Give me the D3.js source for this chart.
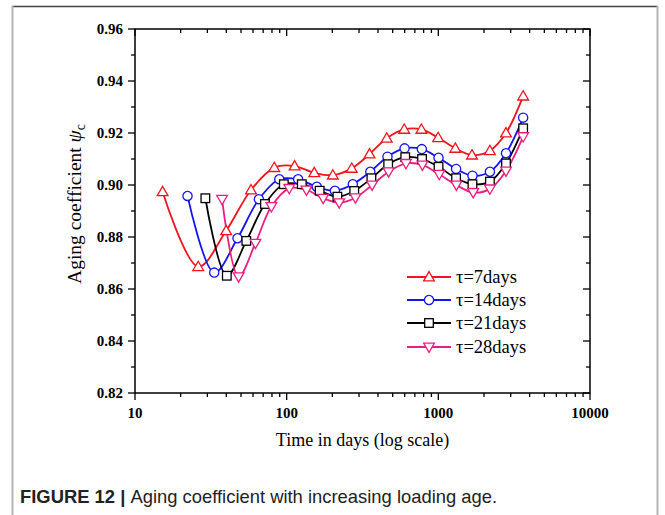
<!DOCTYPE html>
<html>
<head>
<meta charset="utf-8">
<script src="https://cdn.jsdelivr.net/npm/d3@7"></script>
<style>
  html, body { margin: 0; padding: 0; background: #fff; }
</style>
</head>
<body>
<div id="chart"></div>
<script>
// loading time (days) and aging coefficient for each loading age
const age7 = [15.2, 26.1, 39.9, 58.2, 82.8, 112.8, 152, 201.6, 268.6, 352, 457, 596, 773, 997, 1294, 1667, 2188, 2793, 3624];
const psi7 = [0.8974, 0.8686, 0.8824, 0.8981, 0.9067, 0.9073, 0.9047, 0.9038, 0.9064, 0.9119, 0.918, 0.9214, 0.9214, 0.9182, 0.9141, 0.9115, 0.9132, 0.920, 0.9342];

const age14 = [22.2, 33.3, 47.4, 65.6, 89.4, 119, 158, 208, 273, 356, 462, 599, 778, 1003, 1309, 1679, 2188, 2793, 3624];
const psi14 = [0.8958, 0.8663, 0.8795, 0.8945, 0.9022, 0.9022, 0.8993, 0.8978, 0.9003, 0.9051, 0.9109, 0.9141, 0.9138, 0.9105, 0.9062, 0.9036, 0.9051, 0.9122, 0.9259];

const age21 = [29.1, 40.3, 54.2, 71.9, 95.8, 125.8, 165, 216, 279, 362, 467, 605, 781, 1003, 1309, 1679, 2188, 2793, 3624];
const psi21 = [0.8949, 0.8651, 0.8785, 0.8927, 0.9003, 0.9003, 0.8978, 0.8955, 0.8977, 0.9026, 0.908, 0.9107, 0.91, 0.907, 0.9026, 0.9003, 0.9013, 0.9083, 0.9218];

const age28 = [37.5, 48.2, 62.2, 79.3, 104, 135, 174, 222, 284, 366, 470, 612, 785, 1014, 1315, 1697, 2188, 2793, 3624];
const psi28 = [0.8945, 0.8647, 0.8776, 0.8917, 0.8987, 0.8981, 0.8949, 0.8932, 0.8951, 0.90, 0.9051, 0.9083, 0.9077, 0.9041, 0.90, 0.8971, 0.8985, 0.9054, 0.9186];

const seriesNames = ["τ=7days", "τ=14days", "τ=21days", "τ=28days"];
const xTicks = [10, 100, 1000, 10000];
const yTicks = [0.82, 0.84, 0.86, 0.88, 0.90, 0.92, 0.94, 0.96];

(function () {
    const W = 665, H = 515;
    const left = 135, right = 590, top = 29, bottom = 393;

    const svg = d3.select("#chart").append("svg")
        .attr("width", W)
        .attr("height", H)
        .style("display", "block");

    // figure border
    svg.append("line").attr("x1", 12).attr("x2", 658).attr("y1", 6.5).attr("y2", 6.5)
        .attr("stroke", "#444").attr("stroke-width", 1.5);
    svg.append("line").attr("x1", 12.5).attr("x2", 12.5).attr("y1", 6).attr("y2", H)
        .attr("stroke", "#b4b4b4").attr("stroke-width", 2);
    svg.append("line").attr("x1", 657.5).attr("x2", 657.5).attr("y1", 6).attr("y2", H)
        .attr("stroke", "#b4b4b4").attr("stroke-width", 2);

    const x = d3.scaleLog().domain([10, 10000]).range([left, right]);
    const y = d3.scaleLinear().domain([0.82, 0.96]).range([bottom, top]);

    const minorX = [];
    [10, 100, 1000].forEach(b => { for (let k = 2; k <= 9; k++) minorX.push(b * k); });
    const minorY = d3.range(0.83, 0.96, 0.02);

    const serif = "'Liberation Serif', 'Times New Roman', serif";
    const ax = svg.append("g").attr("stroke", "#000").attr("stroke-width", 1.3);

    // bottom (outward) and top (inward) ticks
    xTicks.forEach(v => {
        ax.append("line").attr("x1", x(v)).attr("x2", x(v)).attr("y1", bottom).attr("y2", bottom + 7);
        ax.append("line").attr("x1", x(v)).attr("x2", x(v)).attr("y1", top).attr("y2", top + 7);
    });
    minorX.forEach(v => {
        ax.append("line").attr("x1", x(v)).attr("x2", x(v)).attr("y1", bottom).attr("y2", bottom + 4);
        ax.append("line").attr("x1", x(v)).attr("x2", x(v)).attr("y1", top).attr("y2", top + 4);
    });
    // left (outward) and right (inward) ticks
    yTicks.forEach(v => {
        ax.append("line").attr("x1", left - 7).attr("x2", left).attr("y1", y(v)).attr("y2", y(v));
        ax.append("line").attr("x1", right - 7).attr("x2", right).attr("y1", y(v)).attr("y2", y(v));
    });
    minorY.forEach(v => {
        ax.append("line").attr("x1", left - 4).attr("x2", left).attr("y1", y(v)).attr("y2", y(v));
        ax.append("line").attr("x1", right - 4).attr("x2", right).attr("y1", y(v)).attr("y2", y(v));
    });

    ax.append("rect")
        .attr("x", left).attr("y", top)
        .attr("width", right - left).attr("height", bottom - top)
        .attr("fill", "none").attr("stroke-width", 1.5);

    // tick labels
    svg.append("g").selectAll("text").data(xTicks).join("text")
        .attr("x", d => x(d)).attr("y", 418)
        .attr("text-anchor", "middle")
        .style("font", `bold 15px ${serif}`)
        .text(d => d);
    svg.append("g").selectAll("text").data(yTicks).join("text")
        .attr("x", 123).attr("y", d => y(d)).attr("dy", "0.35em")
        .attr("text-anchor", "end")
        .style("font", `bold 15px ${serif}`)
        .text(d => d.toFixed(2));

    // axis titles
    svg.append("text")
        .attr("x", (left + right) / 2).attr("y", 446)
        .attr("text-anchor", "middle")
        .style("font", `18px ${serif}`)
        .text("Time in days (log scale)");

    const yt = svg.append("text")
        .attr("transform", "translate(81,204) rotate(-90)")
        .attr("text-anchor", "middle")
        .style("font", `19.5px ${serif}`);
    yt.append("tspan").text("Aging coefficient ");
    yt.append("tspan").style("font-style", "italic").text("ψ");
    yt.append("tspan").attr("dy", 4).style("font-size", "14px").text("c");

    // series
    const colors = ["#f0141e", "#1414f0", "#000000", "#ec1f80"];
    const data = [[age7, psi7], [age14, psi14], [age21, psi21], [age28, psi28]]
        .map(([a, p]) => a.map((v, i) => [v, p[i]]));

    const tri = d3.symbol().type(d3.symbolTriangle).size(50);
    const markers = [
        g => g.append("path").attr("d", tri()).attr("transform", "translate(0,0.8)"),
        g => g.append("circle").attr("r", 4.6),
        g => g.append("rect").attr("x", -4.3).attr("y", -4.3).attr("width", 8.6).attr("height", 8.6),
        g => g.append("path").attr("d", tri()).attr("transform", "rotate(180) translate(0,0.8)")
    ];

    const line = d3.line()
        .x(d => x(d[0]))
        .y(d => y(d[1]))
        .curve(d3.curveCatmullRom.alpha(0.5));

    data.forEach((pts, s) => {
        svg.append("path")
            .attr("d", line(pts))
            .attr("fill", "none")
            .attr("stroke", colors[s])
            .attr("stroke-width", 1.8);
    });
    data.forEach((pts, s) => {
        pts.forEach(p => {
            const g = svg.append("g")
                .attr("transform", `translate(${x(p[0])},${y(p[1])})`)
                .attr("fill", "#fff")
                .attr("stroke", colors[s])
                .attr("stroke-width", 1.3);
            markers[s](g);
        });
    });

    // legend
    const legY = [277, 300, 323, 347];
    seriesNames.forEach((name, s) => {
        svg.append("line")
            .attr("x1", 407).attr("x2", 451).attr("y1", legY[s]).attr("y2", legY[s])
            .attr("stroke", colors[s]).attr("stroke-width", 1.8);
        const g = svg.append("g")
            .attr("transform", `translate(429,${legY[s]})`)
            .attr("fill", "#fff").attr("stroke", colors[s]).attr("stroke-width", 1.3);
        markers[s](g);
        svg.append("text")
            .attr("x", 456).attr("y", legY[s]).attr("dy", "0.35em")
            .style("font", `18.5px ${serif}`)
            .text(name);
    });

    // caption
    const cap = svg.append("text")
        .attr("x", 20).attr("y", 503)
        .style("font", "18.4px 'Liberation Sans', Arial, sans-serif")
        .attr("fill", "#222");
    cap.append("tspan").style("font-weight", "bold").text("FIGURE 12 | ");
    cap.append("tspan").text("Aging coefficient with increasing loading age.");
})();
</script>
</body>
</html>
